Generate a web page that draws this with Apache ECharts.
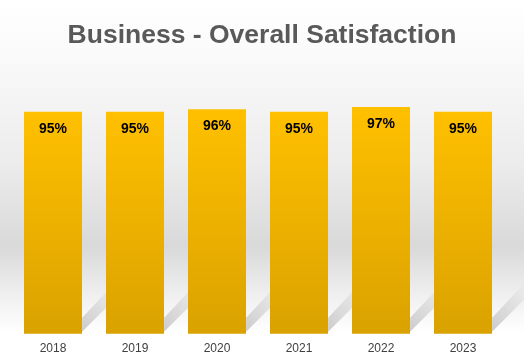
<!DOCTYPE html>
<html><head><meta charset="utf-8">
<script src="https://cdn.jsdelivr.net/npm/echarts@6/dist/echarts.min.js"></script>
<style>html,body{margin:0;padding:0;background:#fff}#c{width:524px;height:362px}</style>
</head><body><div id="c"></div>
<script>
const categories = ['2018','2019','2020','2021','2022','2023'];
const satisfaction = [95, 95, 96, 95, 97, 95];
const titleText = 'Business - Overall Satisfaction';

const chart = echarts.init(document.getElementById('c'), null, {renderer:'canvas'});
chart.setOption({
  animation:false,
  backgroundColor: new echarts.graphic.LinearGradient(0,0,0,1,[
    {offset:0,color:'#ffffff'},
    {offset:0.15,color:'#fafafa'},
    {offset:0.45,color:'#ececec'},
    {offset:0.68,color:'#d9d9d9'},
    {offset:0.82,color:'#f0f0f0'},
    {offset:0.92,color:'#ffffff'},
    {offset:1,color:'#ffffff'}
  ]),
  title:{text:titleText,left:'center',top:17,textStyle:{fontFamily:'Liberation Sans, Arial',fontWeight:'bold',fontSize:26.5,color:'#595959'}},
  grid:{left:12,right:20,top:100,bottom:28.3,containLabel:false},
  xAxis:{type:'category',data:categories,axisLine:{show:false},axisTick:{show:false},
    axisLabel:{color:'#404040',fontSize:12,fontFamily:'Liberation Sans, Arial',margin:9}},
  yAxis:{type:'value',min:0,max:100,show:false,splitLine:{show:false}},
  series:[
    {type:'custom',z:1,silent:true,data:satisfaction.map((v,i)=>[i,0]),
     renderItem:function(params,api){
       const p = api.coord([api.value(0),0]);
       const half = api.size([1,0])[0]*0.355;
       const x = p[0]+half, y = p[1];
       return {type:'polygon',shape:{points:[[x,y-2],[x,y-16],[x+32,y-50],[x+32,y-34]]},
         style:{fill:new echarts.graphic.LinearGradient(0,1,1,0,[
           {offset:0,color:'rgba(140,140,140,0.45)'},{offset:0.6,color:'rgba(150,150,150,0.2)'},{offset:1,color:'rgba(150,150,150,0)'}])}};
     }},
    {type:'bar',z:2,data:satisfaction,barWidth:58,
     itemStyle:{color:new echarts.graphic.LinearGradient(0,0,0,1,[
       {offset:0,color:'#FFC000'},{offset:1,color:'#DAA200'}])},
     label:{show:true,position:'insideTop',distance:10,formatter:'{c}%',color:'#000',
       fontWeight:'bold',fontSize:14,fontFamily:'Liberation Sans, Arial'}}
  ]
});
</script></body></html>
